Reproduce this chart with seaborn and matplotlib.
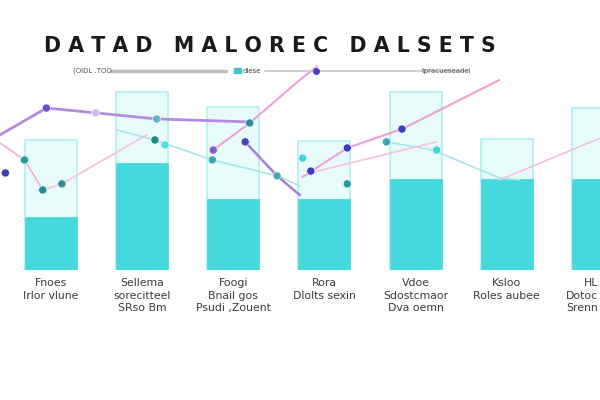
import numpy as np
import pandas as pd
import seaborn as sns
import matplotlib
matplotlib.use("Agg")
import matplotlib.pyplot as plt
from matplotlib.lines import Line2D
from matplotlib.patches import Rectangle

# ---------------- data ----------------
categories = ["Fnoes\nIrlor vlune", "Sellema\nsorecitteel\nSRso Bm",
              "Foogi\nBnail gos\nPsudi ,Zouent", "Rora\nDlolts sexin",
              "Vdoe\nSdostcmaor\nDva oemn", "Ksloo\nRoles aubee",
              "HL\nDotoc\nSrenn"]
total_values = [61.9, 84.8, 77.6, 61.4, 84.8, 62.4, 77.1]
filled_values = [25.2, 51.0, 33.8, 33.8, 43.3, 43.3, 43.3]

purple_x = [-0.56, -0.05, 0.49, 1.16, 2.18]
purple_y = [64.3, 77.1, 74.8, 71.9, 70.5]
purple2_x = [2.13, 2.48, 2.73]
purple2_y = [61.0, 44.8, 35.7]
pinkA_x = [-0.56, -0.29, -0.09]
pinkA_y = [60.5, 52.4, 38.1]
pinkB_x = [-0.09, 0.12, 1.05]
pinkB_y = [38.1, 41.0, 64.3]
pinkC_x = [1.78, 2.18, 2.73, 2.92]
pinkC_y = [57.1, 70.0, 90.5, 97.0]
pinkD_x = [2.76, 3.25, 3.85, 4.92]
pinkD_y = [44.3, 58.1, 67.1, 90.5]
pinkE_x = [2.84, 4.23]
pinkE_y = [46.2, 61.0]
pinkF_x = [4.92, 6.03]
pinkF_y = [42.9, 62.9]
tealA_x = [0.72, 1.14, 1.77, 2.48, 2.73]
tealA_y = [66.7, 61.9, 52.4, 44.8, 40.0]
tealB_x = [3.68, 4.19, 4.92, 5.14]
tealB_y = [61.0, 57.1, 43.8, 42.9]

marker_x = [-0.50, -0.29, -0.09, 0.12, -0.05, 0.49, 1.16, 1.14, 1.25, 1.78,
            1.77, 2.18, 2.13, 2.48, 2.76, 3.25, 2.85, 3.25, 3.68, 3.85, 4.23]
marker_y = [46.2, 52.4, 38.1, 41.0, 77.1, 74.8, 71.9, 61.9, 59.5, 57.1,
            52.4, 70.0, 61.0, 44.8, 53.3, 58.1, 47.1, 41.0, 61.0, 67.1, 57.1]
marker_c = ["#3b3fb0", "#2a9aa0", "#1f8f95", "#2a8f9a", "#6a50c8", "#cbc0ee",
            "#5fb7c0", "#1e8a8a", "#4fe0e8", "#7b5fc8", "#3aa8b0", "#2a8f9a",
            "#3a4bc0", "#4aa8b0", "#3dd6d9", "#3a3fb8", "#3a3fb8", "#2a9aa0",
            "#3aa8b0", "#3a3fb8", "#3dd6d9"]

# ---------------- figure ----------------
sns.set_theme(style="white")
plt.rcParams["font.family"] = ["DejaVu Sans"]
fig = plt.figure(figsize=(6, 4), dpi=100)
fig.patch.set_facecolor("white")
ax = fig.add_axes([0.0, 0.325, 1.0, 0.575])

pos = np.arange(len(categories))
df = pd.DataFrame({"pos": pos, "total": total_values, "filled": filled_values})

sns.barplot(data=df, x="pos", y="total", native_scale=True, width=0.57,
            color="#e8fbfb", edgecolor="#b2eff0", linewidth=1.2, saturation=1,
            ax=ax)
sns.barplot(data=df, x="pos", y="filled", native_scale=True, width=0.57,
            color="#45d9de", edgecolor="#45d9de", linewidth=0.5, saturation=1,
            ax=ax)

lines = [
    (tealA_x, tealA_y, "#a6e6ea", 1.2),
    (tealB_x, tealB_y, "#a6e6ea", 1.2),
    (pinkA_x, pinkA_y, "#f0b0da", 1.2),
    (pinkB_x, pinkB_y, "#f3c6e2", 1.4),
    (pinkE_x, pinkE_y, "#f5c6e3", 1.3),
    (pinkF_x, pinkF_y, "#f2bfe0", 1.2),
    (pinkC_x, pinkC_y, "#ee9fd6", 1.5),
    (pinkD_x, pinkD_y, "#ee9fd6", 1.5),
    (purple_x, purple_y, "#b48ade", 2.0),
    (purple2_x, purple2_y, "#a77fd9", 1.8),
]
for lx, ly, c, lw in lines:
    sns.lineplot(x=lx, y=ly, sort=False, color=c, linewidth=lw, ax=ax,
                 estimator=None)

ax.scatter(marker_x, marker_y, s=34, c=marker_c, edgecolors="white",
           linewidths=0.4, zorder=5)

ax.set_xlim(-0.559, 6.022)
ax.set_ylim(0, 109.5)
ax.set_xticks(pos)
ax.set_xticklabels(categories, fontsize=7.8, color="#3a3a3a", linespacing=1.3)
ax.tick_params(axis="x", length=0, pad=6)
last = ax.get_xticklabels()[-1]
last.set_ha("right")
last.set_x(0)
ax.set_yticks([])
ax.set_xlabel("")
ax.set_ylabel("")
for s in ax.spines.values():
    s.set_visible(False)
ax.set_facecolor("none")

# ---------------- title and legend row ----------------
fig.text(0.45, 0.885, "D A T A D   M A L O R E C   D A L S E T S",
         ha="center", va="center", fontsize=14.8, fontweight="bold",
         color="#1a1a1a")

fig.text(0.122, 0.823, "(OIDL .TOO", ha="left", va="center", fontsize=5,
         color="#555555")
fig.add_artist(Line2D([0.185, 0.377], [0.823, 0.823], color="#bdbdbd", lw=2.5))
fig.add_artist(Rectangle((0.39, 0.817), 0.012, 0.013, color="#3cc6cc"))
fig.text(0.405, 0.823, "dlese", ha="left", va="center", fontsize=5,
         color="#444444")
fig.add_artist(Line2D([0.442, 0.78], [0.823, 0.823], color="#c8c8c8", lw=1.2))
fig.add_artist(Line2D([0.527], [0.823], marker="o", color="#4a3fc0",
                      markersize=4, lw=0))
fig.text(0.785, 0.823, "tpracueseadel", ha="right", va="center", fontsize=5,
         color="#555555")

fig.savefig("out.png", dpi=100, facecolor="white")
